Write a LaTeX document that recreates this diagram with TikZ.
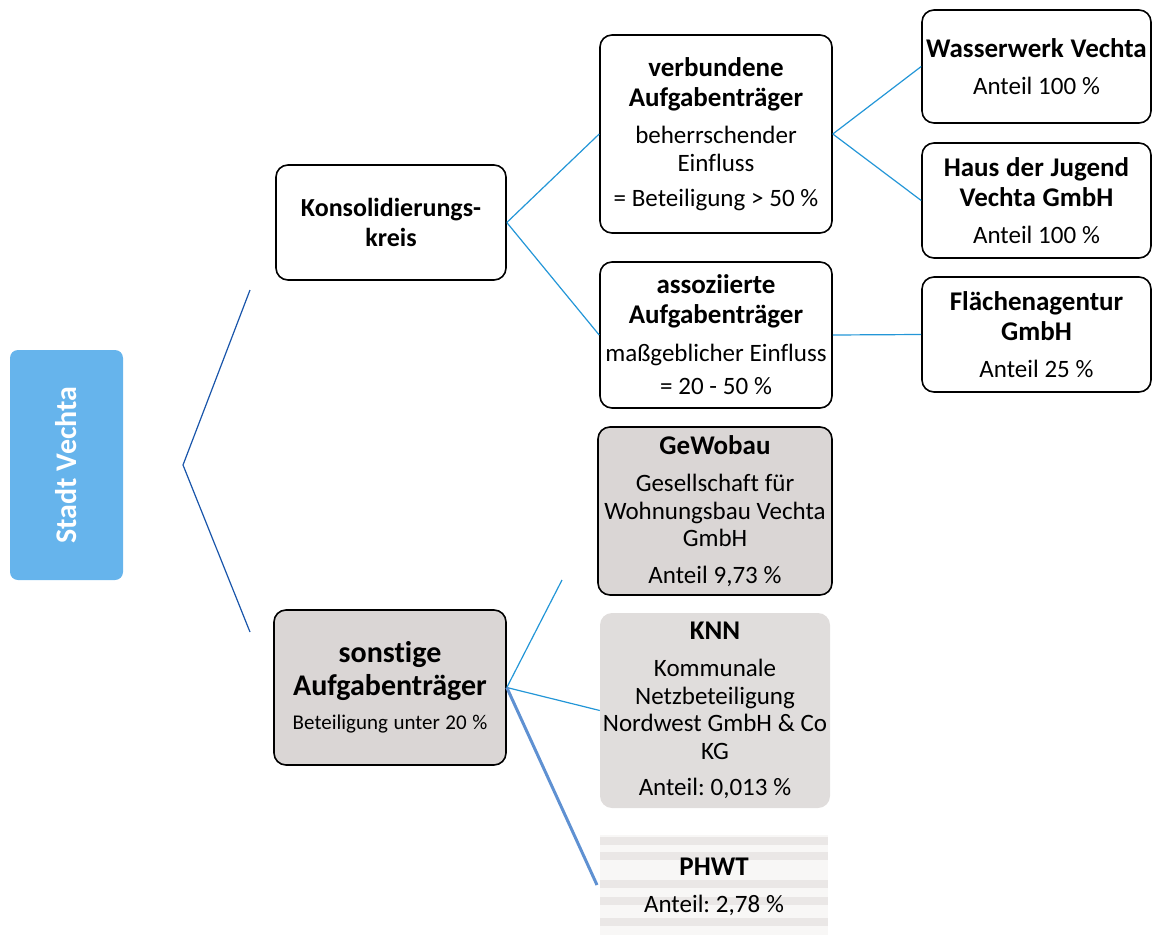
\documentclass[tikz,border=0pt]{standalone}
\usepackage{fontspec}
\setmainfont{Carlito}[Ligatures=NoCommon]
\usepackage{tikz}
\usetikzlibrary{positioning}
\definecolor{stadtblue}{RGB}{102,180,236}
\definecolor{trunkblue}{RGB}{25,85,170}
\definecolor{branchblue}{RGB}{35,150,215}
\definecolor{fadeblue}{RGB}{95,145,210}
\definecolor{shareGray}{RGB}{218,214,213}
\definecolor{lightGray}{RGB}{224,221,220}
\definecolor{stripeGray}{RGB}{234,231,230}
\newcommand{\boxhead}[1]{{\bfseries\fontsize{27}{30}\selectfont\spaceskip=6.8pt #1\par}\vspace{10pt}}
\newcommand{\boxbody}[1]{{\fontsize{25}{27.5}\selectfont\spaceskip=5.8pt #1\par}}
\tikzstyle{entity}=[draw=black, line width=1.6pt, rounded corners=12pt, fill=white, align=center, inner sep=0pt, execute at begin node=\frenchspacing]
\tikzstyle{share-entity}=[entity, fill=shareGray]
\tikzstyle{plain-entity}=[align=center, inner sep=0pt, rounded corners=12pt, fill=lightGray, execute at begin node=\frenchspacing]
\tikzstyle{trunk}=[draw=trunkblue, line width=1.2pt]
\tikzstyle{branch}=[draw=branchblue, line width=1.2pt]

\begin{document}
\begin{tikzpicture}[x=1pt, y=-1pt]
\useasboundingbox (0,0) rectangle (1153,939);

\node[fill=stadtblue, rounded corners=8pt, minimum width=113pt, minimum height=230pt, inner sep=0pt] (stadt) at (66.5,465) {};
\node[rotate=90, text=white, font=\bfseries\fontsize{30}{34}\selectfont] (stadtlabel) at (stadt.center) {Stadt Vechta};
\coordinate (fork) at (183,465);
\coordinate (upperend) at (250,290);
\coordinate (lowerend) at (250,632);
\draw[trunk] (upperend) -- (fork) -- (lowerend);

\node[entity, minimum width=230pt, minimum height=115pt, text width=226pt] (konsol) at (391,222.5)
  {{\bfseries\fontsize{26}{30}\selectfont Konsolidierungs-\\kreis\par}};
\node[entity, minimum width=232pt, minimum height=198pt, text width=228pt] (verb) at (716,134)
  {\boxhead{verbundene\\Aufgabenträger}\boxbody{beherrschender\\Einfluss}\vspace{8pt}\boxbody{= Beteiligung > 50~\%}};
\node[entity, minimum width=232pt, minimum height=146pt, text width=228pt] (assoz) at (716,335)
  {\boxhead{assoziierte\\Aufgabenträger}\boxbody{maßgeblicher Einfluss}\vspace{6pt}\boxbody{= 20 - 50~\%}};

\node[entity, minimum width=229pt, minimum height=113pt, text width=227pt] (wasser) at (1036.5,66.5)
  {\boxhead{Wasserwerk Vechta}\boxbody{Anteil 100~\%}};
\node[entity, minimum width=229pt, minimum height=115pt, text width=227pt] (haus) at (1036.5,200.5)
  {\boxhead{Haus der Jugend\\Vechta GmbH}\boxbody{Anteil 100~\%}};
\node[entity, minimum width=229pt, minimum height=115pt, text width=227pt] (flaeche) at (1036.5,334.5)
  {\boxhead{Flächenagentur\\GmbH}\boxbody{Anteil 25~\%}};

\node[share-entity, minimum width=232pt, minimum height=155pt, text width=228pt] (sonst) at (390,687.5)
  {{\bfseries\fontsize{30}{33}\selectfont sonstige\\Aufgabenträger\par}\vspace{10pt}{\fontsize{21}{24}\selectfont\spaceskip=5.5pt Beteiligung unter 20~\%\par}};
\node[share-entity, minimum width=234pt, minimum height=168pt, text width=230pt] (gewo) at (715,511)
  {\boxhead{GeWobau}\boxbody{Gesellschaft für\\Wohnungsbau Vechta\\GmbH}\vspace{9pt}\boxbody{Anteil 9,73~\%}};
\node[plain-entity, minimum width=230pt, minimum height=195pt, text width=228pt] (knn) at (715,710.5)
  {\boxhead{KNN}\boxbody{Kommunale\\Netzbeteiligung\\Nordwest GmbH \& Co\\KG}\vspace{9pt}\boxbody{Anteil: 0,013~\%}};

% faded stripes behind PHWT
\fill[white!65!stripeGray] (600,835) rectangle (828,935);
\foreach \y in {837,852,880,897,918}
{
  \fill[stripeGray] (600,\y) rectangle (828,\y+8);
}
\node[align=center, inner sep=0pt, minimum width=228pt, minimum height=100pt, text width=224pt, execute at begin node=\frenchspacing] (phwt) at (714,887)
  {\boxhead{PHWT}\boxbody{Anteil: 2,78~\%}};

\draw[branch] (konsol.east) -- (verb.west);
\draw[branch] (konsol.east) -- (assoz.west);
\draw[branch] (verb.east) -- (wasser.west);
\draw[branch] (verb.east) -- (haus.west);
\draw[branch] (assoz.east) -- (flaeche.west);
\coordinate (gewoend) at (562,580);
\coordinate (phwtend) at (597,885);
\draw[branch] (sonst.east) -- (gewoend);
\draw[branch] (sonst.east) -- (knn.west);
\draw[draw=fadeblue, line width=3pt] (sonst.east) -- (phwtend);
\end{tikzpicture}
\end{document}
